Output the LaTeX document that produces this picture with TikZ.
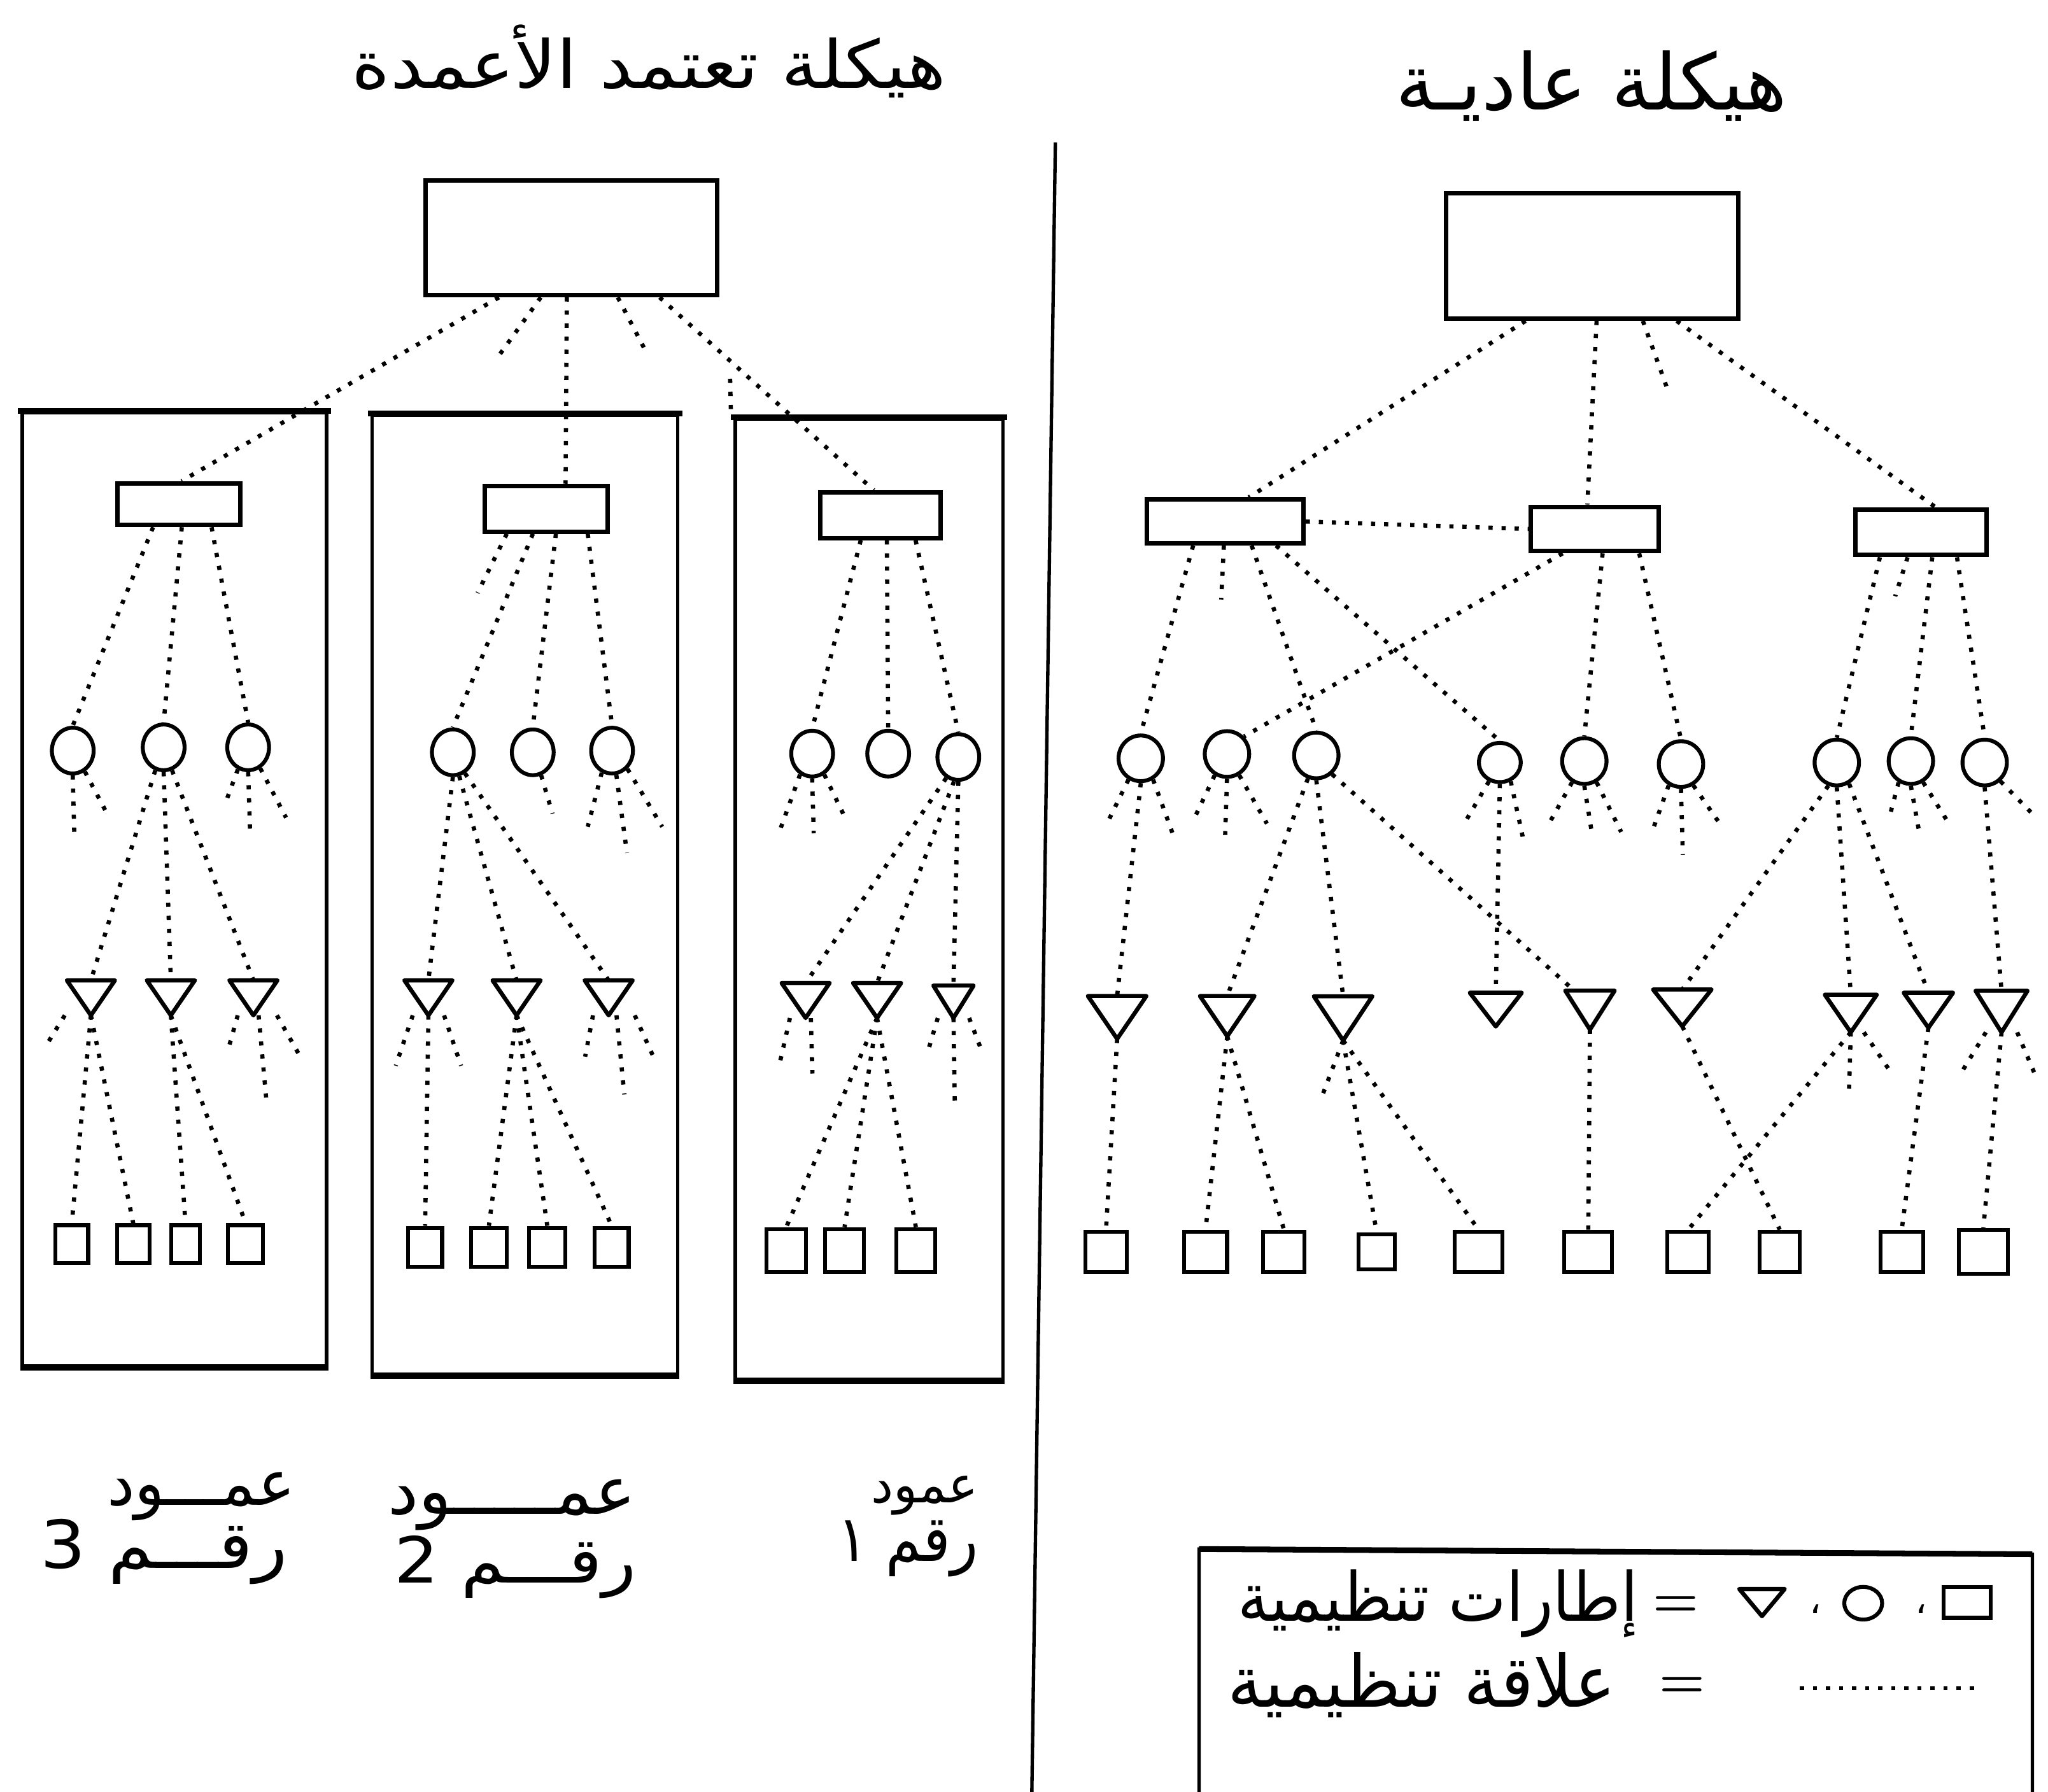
\documentclass[tikz,border=0pt]{standalone}
\usepackage{fontspec}
\usepackage{graphicx}
\usetikzlibrary{shapes.geometric}
\TeXXeTstate=1
\newfontfamily\arabicfont[Script=Arabic]{DejaVu Sans}
% width, total height, text
\newcommand{\artext}[3]{\resizebox*{#1}{#2}{\arabicfont #3}}
\tikzset{
 box/.style={draw, line width=1.7pt, inner sep=0pt, rectangle},
 colbox/.style={draw, line width=1.3pt, inner sep=0pt, rectangle},
 heavyedge/.style={line width=2.2pt},
 circ/.style={draw, ellipse, line width=1.5pt, inner sep=0pt, minimum width=16pt, minimum height=17.5pt},
 tri/.style={inner sep=0pt, rectangle, minimum width=18pt, minimum height=13pt},
 sq/.style={draw, line width=1.5pt, inner sep=0pt, rectangle, minimum width=13pt, minimum height=14.5pt},
 rel/.style={line width=1.6pt, dash pattern=on 1.6pt off 3.4pt},
 trishape/.style={draw, line width=1.6pt, line join=round},
 txt/.style={inner sep=0pt, outer sep=0pt},
}
\begin{document}
\begin{tikzpicture}[x=0.5pt, y=-0.5pt]
\useasboundingbox (0,0) rectangle (1568,1372);

% ---------- titles ----------
\node[txt] (TT1) at (497,47) {\artext{227.5pt}{28pt}{\beginR هيكلة تعتمد الأعمدة\endR}};
\node[txt] (TT2) at (1218.5,66) {\artext{150pt}{27pt}{\beginR هيكلة عاديـة\endR}};

% ---------- divider ----------
\draw[line width=1.3pt] (808,109) -- (790,1372);

% ================= LEFT : column structure =================
\node[box, minimum width=111.5pt, minimum height=44pt] (TL) at (437.5,182) {};
\node[colbox, minimum width=116.5pt, minimum height=365pt] (K3) at (133.5,681) {};
\node[colbox, minimum width=117pt, minimum height=367pt] (K2) at (402,685) {};
\node[colbox, minimum width=102.5pt, minimum height=367.5pt] (K1) at (665.5,688.5) {};
\foreach \k in {K3,K2,K1} {
  \draw[heavyedge] ([xshift=-1pt]\k.north west) -- ([xshift=1pt]\k.north east);
  \draw[heavyedge] (\k.south west) -- (\k.south east);
}

\node[box, minimum width=47pt, minimum height=16pt] (B3) at (137,386) {};
\node[box, minimum width=47pt, minimum height=17.5pt] (B2) at (418,389.5) {};
\node[box, minimum width=46pt, minimum height=17.5pt] (B1) at (674,394.5) {};

\node[circ] (c31) at (55.7,574.7) {};
\node[circ] (c32) at (125.3,572.2) {};
\node[circ] (c33) at (190,572.2) {};
\node[circ] (c21) at (346.7,576) {};
\node[circ] (c22) at (407.9,576) {};
\node[circ] (c23) at (468.6,574.7) {};
\node[circ] (c11) at (621.8,577) {};
\node[circ] (c12) at (680,577) {};
\node[circ] (c13) at (733.7,579.6) {};

\node[tri] (t31) at (69.6,764) {};
\node[tri] (t32) at (130.8,764) {};
\node[tri] (t33) at (194,764) {};
\node[tri] (t21) at (328,764) {};
\node[tri] (t22) at (395.5,764) {};
\node[tri] (t23) at (466,764) {};
\node[tri] (t11) at (616.8,766) {};
\node[tri] (t12) at (671.5,766) {};
\node[tri, minimum width=15pt, minimum height=12pt] (t13) at (730,767) {};

\node[sq, minimum width=12.5pt] (q31) at (55,952.5) {};
\node[sq, minimum width=12.5pt] (q32) at (102,952.5) {};
\node[sq, minimum width=11pt] (q33) at (142,952.5) {};
\node[sq, minimum width=13.5pt] (q34) at (188,952.5) {};
\node[sq, minimum height=15pt] (q21) at (325.5,955) {};
\node[sq, minimum width=13.5pt, minimum height=15pt] (q22) at (374.3,955) {};
\node[sq, minimum width=14pt, minimum height=15pt] (q23) at (419,955) {};
\node[sq, minimum height=15pt] (q24) at (468.3,955) {};
\node[sq, minimum width=15pt, minimum height=16.5pt] (q11) at (602,957.5) {};
\node[sq, minimum width=15pt, minimum height=16.5pt] (q12) at (646.6,957.5) {};
\node[sq, minimum width=15pt, minimum height=16.5pt] (q13) at (701.2,957.5) {};

% top box links
\draw[rel] ([xshift=-27.75pt]TL.south) -- ([xshift=1pt]B3.north);
\draw[rel] ([xshift=-11.75pt]TL.south) -- (380,275) coordinate (e1);
\draw[rel] ([xshift=-1.75pt]TL.south) -- ([xshift=7.5pt]B2.north);
\draw[rel] ([xshift=17.75pt]TL.south) -- (496,272) coordinate (e2);
\draw[rel] ([xshift=33.75pt]TL.south) -- ([xshift=-2.5pt]B1.north);
\draw[rel] (559,290) coordinate (e3) -- ([xshift=-1pt]K1.north west);

% sub boxes -> circles
\draw[rel] ([xshift=-9.9pt]B3.south) -- (c31.north);
\draw[rel] ([xshift=1.1pt]B3.south) -- (c32.north);
\draw[rel] ([xshift=12.5pt]B3.south) -- (c33.north);
\draw[rel] ([xshift=-15pt]B2.south) -- (365.6,454) coordinate (e4);
\draw[rel] ([xshift=-5pt]B2.south) -- (c21.north);
\draw[rel] ([xshift=3.8pt]B2.south) -- (c22.north);
\draw[rel] ([xshift=16pt]B2.south) -- (c23.north);
\draw[rel] ([xshift=-7.5pt]B1.south) -- (c11.north);
\draw[rel] ([xshift=2.5pt]B1.south) -- (c12.north);
\draw[rel] ([xshift=13.5pt]B1.south) -- (c13.north);

% circles -> triangles / stubs
\draw[rel] (c31.south) -- (57,643) coordinate (e5);
\draw[rel] (c31.-60) -- (82,623) coordinate (e6);
\draw[rel] (c32.-110) -- (t31.north);
\draw[rel] (c32.south) -- (t32.north);
\draw[rel] (c32.-70) -- (t33.north);
\draw[rel] (c33.-115) -- (174,611) coordinate (e7);
\draw[rel] (c33.south) -- (191.5,638) coordinate (e8);
\draw[rel] (c33.-60) -- (219,626) coordinate (e9);
\draw[rel] (c21.south) -- (t21.north);
\draw[rel] (c21.-75) -- (t22.north);
\draw[rel] (c21.-60) -- (t23.north);
\draw[rel] (c22.-70) -- (423,623) coordinate (e10);
\draw[rel] (c23.-115) -- (450,633) coordinate (e11);
\draw[rel] (c23.-80) -- (480,653) coordinate (e12);
\draw[rel] (c23.-50) -- (507,633) coordinate (e13);
\draw[rel] (c11.-120) -- (597,636) coordinate (e14);
\draw[rel] (c11.south) -- (623,638) coordinate (e15);
\draw[rel] (c11.-60) -- (647,626) coordinate (e16);
\draw[rel] (c13.-120) -- (t11.north);
\draw[rel] (c13.-100) -- (t12.north);
\draw[rel] (c13.south) -- (t13.north);

% triangles -> squares / stubs
\draw[rel] ([xshift=-10pt]t31.south) -- (35,801) coordinate (e17);
\draw[rel] (t31.south) -- (q31.north);
\draw[rel] (t31.south) -- (q32.north);
\draw[rel] (t32.south) -- (q33.north);
\draw[rel] (t32.south) -- (q34.north);
\draw[rel] ([xshift=-6pt]t33.south) -- (174,806) coordinate (e18);
\draw[rel] ([xshift=2pt]t33.south) -- (204,843) coordinate (e19);
\draw[rel] ([xshift=9pt]t33.south) -- (231,811) coordinate (e20);
\draw[rel] ([xshift=-6pt]t21.south) -- (303,816) coordinate (e21);
\draw[rel] (t21.south) -- (q21.north);
\draw[rel] ([xshift=6pt]t21.south) -- (353,816) coordinate (e22);
\draw[rel] (t22.south) -- (q22.north);
\draw[rel] (t22.south) -- (q23.north);
\draw[rel] (t22.south) -- (q24.north);
\draw[rel] ([xshift=-6pt]t23.south) -- (448,809) coordinate (e23);
\draw[rel] ([xshift=3pt]t23.south) -- (478,838) coordinate (e24);
\draw[rel] ([xshift=10pt]t23.south) -- (502,813) coordinate (e25);
\draw[rel] ([xshift=-6pt]t11.south) -- (597,814) coordinate (e26);
\draw[rel] ([xshift=2pt]t11.south) -- (622,822) coordinate (e27);
\draw[rel] (t12.south) -- (q11.north);
\draw[rel] (t12.south) -- (q12.north);
\draw[rel] (t12.south) -- (q13.north);
\draw[rel] ([xshift=-6pt]t13.south) -- (711,803) coordinate (e28);
\draw[rel] (t13.south) -- (731,843) coordinate (e29);
\draw[rel] ([xshift=6pt]t13.south) -- (751,803) coordinate (e30);

% column labels
\node[txt] (L3a) at (154,1146) {\artext{72pt}{18.5pt}{\beginR عمـــود\endR}};
\node[txt] (L3b) at (125.5,1188) {\artext{94.5pt}{25pt}{\beginR رقـــم 3\endR}};
\node[txt] (L2a) at (392,1152) {\artext{95pt}{19.5pt}{\beginR عمـــــود\endR}};
\node[txt] (L2b) at (394.5,1200) {\artext{92.5pt}{24pt}{\beginR رقـــم 2\endR}};
\node[txt] (L1a) at (708,1145) {\artext{41pt}{15pt}{\beginR عمود\endR}};
\node[txt] (L1b) at (695,1186) {\artext{54pt}{21.5pt}{\beginR رقم ١\endR}};

% ================= RIGHT : ordinary structure =================
\node[box, minimum width=112pt, minimum height=48pt] (TR) at (1219,196) {};
\node[box, minimum width=60pt, minimum height=16.75pt] (R1) at (938,399.3) {};
\node[box, minimum width=49pt, minimum height=17pt] (R2) at (1221,405) {};
\node[box, minimum width=50.25pt, minimum height=17.5pt] (R3) at (1470.8,407.5) {};

\node[circ, minimum width=17pt] (rc1) at (873.4,580.6) {};
\node[circ, minimum width=17pt] (rc2) at (939.4,577.3) {};
\node[circ, minimum width=17pt] (rc3) at (1007.8,578.4) {};
\node[circ, minimum width=16pt, minimum height=15pt] (rc4) at (1148.3,583.8) {};
\node[circ, minimum width=17pt] (rc5) at (1213,582.7) {};
\node[circ, minimum width=17pt] (rc6) at (1287,585) {};
\node[circ, minimum width=17pt] (rc7) at (1406.3,583.8) {};
\node[circ, minimum width=17pt] (rc8) at (1463,582.7) {};
\node[circ, minimum width=17pt] (rc9) at (1519.5,583.8) {};

\node[tri, minimum width=22pt, minimum height=16pt] (rt1) at (855.3,779) {};
\node[tri, minimum width=20.5pt, minimum height=15pt] (rt2) at (939.6,778) {};
\node[tri, minimum width=22pt, minimum height=16.5pt] (rt3) at (1028.3,779.7) {};
\node[tri, minimum width=19.5pt, minimum height=12.5pt] (rt4) at (1145.2,773) {};
\node[tri, minimum width=18.5pt, minimum height=14.5pt] (rt5) at (1217.3,773.4) {};
\node[tri, minimum width=22pt, minimum height=13.7pt] (rt6) at (1288,771.7) {};
\node[tri, minimum width=19.5pt, minimum height=14pt] (rt7) at (1417,776) {};
\node[tri, minimum width=18.5pt, minimum height=13pt] (rt8) at (1476.4,773.5) {};
\node[tri, minimum width=19.5pt, minimum height=15.5pt] (rt9) at (1532.4,774.5) {};

\node[sq, minimum width=15.8pt, minimum height=15.5pt] (rs1) at (846.8,958.5) {};
\node[sq, minimum width=16.5pt, minimum height=15.5pt] (rs2) at (923,958.5) {};
\node[sq, minimum width=15.8pt, minimum height=15.5pt] (rs3) at (983,958.5) {};
\node[sq, minimum width=13.75pt, minimum height=13.5pt] (rs4) at (1054,958.5) {};
\node[sq, minimum width=18.25pt, minimum height=15.5pt] (rs5) at (1132,958.5) {};
\node[sq, minimum width=18.25pt, minimum height=15.5pt] (rs6) at (1216,958.5) {};
\node[sq, minimum width=15.8pt, minimum height=15.5pt] (rs7) at (1292.5,958.5) {};
\node[sq, minimum width=15.4pt, minimum height=15.5pt] (rs8) at (1362.6,958.5) {};
\node[sq, minimum width=16.25pt, minimum height=15.5pt] (rs9) at (1456,958.5) {};
\node[sq, minimum width=18.75pt, minimum height=16.8pt] (rs10) at (1518.5,958.5) {};

% top box links
\draw[rel] ([xshift=-25.5pt]TR.south) -- ([xshift=9pt]R1.north);
\draw[rel] ([xshift=1.7pt]TR.south) -- ([xshift=-2.85pt]R2.north);
\draw[rel] ([xshift=19.4pt]TR.south) -- (1277,299) coordinate (f1);
\draw[rel] ([xshift=32.35pt]TR.south) -- ([xshift=5.5pt]R3.north);
\draw[rel] (R1.east) -- (R2.west);

% sub boxes -> circles
\draw[rel] ([xshift=-12.25pt]R1.south) -- (rc1.north);
\draw[rel] ([xshift=-0.5pt]R1.south) -- (935,459) coordinate (f2);
\draw[rel] ([xshift=10.15pt]R1.south) -- (rc3.north);
\draw[rel] ([xshift=19.5pt]R1.south) -- (rc4.north);
\draw[rel] ([xshift=-12.3pt]R2.south) -- (rc2.north east);
\draw[rel] ([xshift=3pt]R2.south) -- (rc5.north);
\draw[rel] ([xshift=17pt]R2.south) -- (rc6.north);
\draw[rel] ([xshift=-15.75pt]R3.south) -- (rc7.north);
\draw[rel] ([xshift=-5.15pt]R3.south) -- (1451,456.5) coordinate (f3);
\draw[rel] ([xshift=4.3pt]R3.south) -- (rc8.north);
\draw[rel] ([xshift=13.75pt]R3.south) -- (rc9.north);

% circles -> triangles / stubs
\draw[rel] (rc1.south) -- (rt1.north);
\draw[rel] (rc1.-120) -- (847.5,630.6) coordinate (f4);
\draw[rel] (rc1.-60) -- (899,641.5) coordinate (f5);
\draw[rel] (rc2.-120) -- (913.5,628.4) coordinate (f6);
\draw[rel] (rc2.south) -- (938,639.3) coordinate (f7);
\draw[rel] (rc2.-60) -- (970,630.6) coordinate (f8);
\draw[rel] (rc3.-110) -- (rt2.north);
\draw[rel] (rc3.south) -- (rt3.north);
\draw[rel] (rc3.-50) -- ([xshift=-6pt]rt5.north);
\draw[rel] (rc4.-120) -- (1121,630.6) coordinate (f9);
\draw[rel] (rc4.south) -- (rt4.north);
\draw[rel] (rc4.-60) -- (1166,641.5) coordinate (f10);
\draw[rel] (rc5.-120) -- (1184.7,632.8) coordinate (f11);
\draw[rel] (rc5.south) -- (1219,639.3) coordinate (f12);
\draw[rel] (rc5.-60) -- (1241.2,637) coordinate (f13);
\draw[rel] (rc6.-120) -- (1264.8,637) coordinate (f14);
\draw[rel] (rc6.south) -- (1288.4,654.5) coordinate (f15);
\draw[rel] (rc6.-60) -- (1316.7,630.6) coordinate (f16);
\draw[rel] (rc7.-110) -- (rt6.north);
\draw[rel] (rc7.south) -- (rt7.north);
\draw[rel] (rc7.-60) -- (rt8.north);
\draw[rel] (rc8.-120) -- (1446.4,626.3) coordinate (f17);
\draw[rel] (rc8.south) -- (1469,635) coordinate (f18);
\draw[rel] (rc8.-60) -- (1493.5,632.8) coordinate (f19);
\draw[rel] (rc9.south) -- (rt9.north);
\draw[rel] (rc9.-50) -- (1555,622) coordinate (f20);

% triangles -> squares / stubs
\draw[rel] (rt1.south) -- (rs1.north);
\draw[rel] (rt2.south) -- (rs2.north);
\draw[rel] (rt2.south) -- (rs3.north);
\draw[rel] (rt3.south) -- (1011,842.5) coordinate (f21);
\draw[rel] (rt3.south) -- (rs4.north);
\draw[rel] (rt3.south) -- (rs5.north);
\draw[rel] (rt5.south) -- (rs6.north);
\draw[rel] (rt6.south) -- (rs8.north);
\draw[rel] (rt7.south) -- (rs7.north);
\draw[rel] (rt7.south) -- (1415.6,836.3) coordinate (f22);
\draw[rel] ([xshift=5pt]rt7.south) -- (1447,820) coordinate (f23);
\draw[rel] (rt8.south) -- (rs9.north);
\draw[rel] (rt9.south) -- (rs10.north);
\draw[rel] ([xshift=-6pt]rt9.south) -- (1503,819) coordinate (f24);
\draw[rel] ([xshift=6pt]rt9.south) -- (1559,825) coordinate (f25);

% draw all triangles
\foreach \t in {t31,t32,t33,t21,t22,t23,t11,t12,t13,rt1,rt2,rt3,rt4,rt5,rt6,rt7,rt8,rt9}
  \draw[trishape] (\t.north west) -- (\t.north east) -- (\t.south) -- cycle;

% ================= legend =================
\draw[line width=1.3pt] (918,1372) -- (918,1186) -- (1556,1190) -- (1556,1372);
\draw[heavyedge] (918,1186) -- (1556,1190);
\node[txt] (lg1) at (1101,1228) {\artext{153pt}{26pt}{\beginR إطارات تنظيمية\endR}};
\node[txt] (eq1) at (1283,1230) {\fontsize{20}{20}\selectfont\bfseries =};
\node[tri, minimum width=17pt, minimum height=10pt] (lt) at (1349,1227) {};
\draw[trishape] (lt.north west) -- (lt.north east) -- (lt.south) -- cycle;
\node[txt] (cm1) at (1390,1232) {\arabicfont\fontsize{14}{14}\selectfont ،};
\node[circ, minimum width=14.5pt, minimum height=12.5pt] (lc) at (1426.5,1227.5) {};
\node[txt] (cm2) at (1471,1232) {\arabicfont\fontsize{14}{14}\selectfont ،};
\node[sq, minimum width=18pt, minimum height=11.75pt] (ls) at (1506,1227) {};
\node[txt] (lg2) at (1088.5,1290) {\artext{148.5pt}{25pt}{\beginR علاقة تنظيمية\endR}};
\node[txt] (eq2) at (1288,1292) {\fontsize{20}{20}\selectfont\bfseries =};
\coordinate (ld1) at (1378,1292.5);
\coordinate (ld2) at (1514,1292.5);
\draw[rel] (ld1) -- (ld2);
\end{tikzpicture}
\end{document}
